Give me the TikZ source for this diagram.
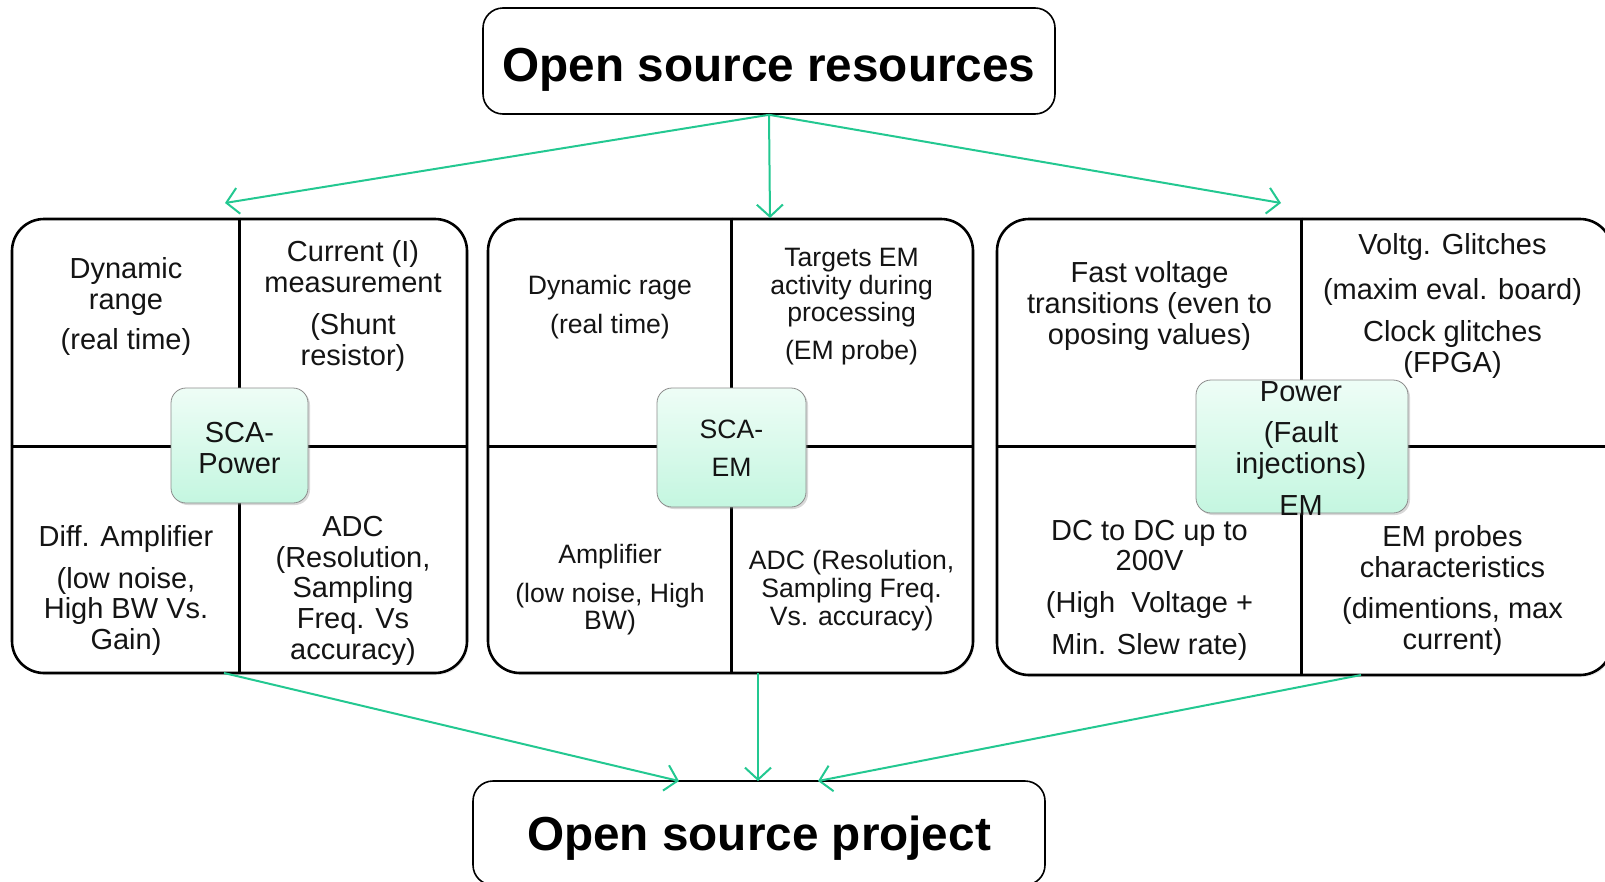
\documentclass[tikz,border=0pt]{standalone}
\usepackage{fontspec}
\setmainfont{Liberation Sans}
\usetikzlibrary{arrows.meta,shadows}
\definecolor{flowgreen}{RGB}{35,200,145}
\definecolor{badgetop}{RGB}{238,253,246}
\definecolor{badgebot}{RGB}{196,246,224}
\begin{document}
\begin{tikzpicture}[x=1pt,y=-1pt,
  titlebox/.style={draw=black, line width=1.6pt, rounded corners=20pt, inner sep=0pt,
    text depth=0pt, font=\fontsize{47.7}{50}\selectfont\bfseries},
  panel/.style={draw=black, fill=white, line width=2.6pt, rounded corners=32pt, inner sep=0pt,
    drop shadow={opacity=0.18, shadow xshift=1.5pt, shadow yshift=-2pt}},
  divider/.style={line width=3pt},
  badge/.style={draw=black!45, line width=0.8pt, rounded corners=15pt, inner sep=0pt,
    top color=badgetop, bottom color=badgebot,
    drop shadow={opacity=0.3, shadow xshift=2pt, shadow yshift=-2pt}},
  flow/.style={draw=flowgreen, line width=2pt,
    -{Straight Barb[length=12pt,width=26pt,line width=2pt]}},
  txtA/.style={align=center, inner sep=0pt, text=black!92, font=\fontsize{29}{30.7}\selectfont},
  txtB/.style={align=center, inner sep=0pt, text=black!92, font=\fontsize{26.6}{27.6}\selectfont}]
\useasboundingbox (0,0) rectangle (1605,881);
\begin{scope}
\clip (0,0) rectangle (1605,881);
% title boxes
\node[titlebox, minimum width=572pt, minimum height=106pt] (top) at (769,61) {};
\node[titlebox, draw=none, text height=41pt] (toptext) at (top.center) {Open source resources};
\node[titlebox, minimum width=572pt, minimum height=104pt] (bot) at (759,833) {Open source project};
% panels
\node[panel, minimum width=455pt, minimum height=454pt] (p1) at (239.5,446) {};
\node[panel, minimum width=485pt, minimum height=454pt] (p2) at (730.5,446) {};
\node[panel, minimum width=615pt, minimum height=456pt] (p3) at (1304.5,447) {};
% dividers
\draw[divider] (p1.west |- 0,446) -- (p1.east |- 0,446);
\draw[divider] (239,0 |- p1.north) -- (239,0 |- p1.south);
\draw[divider] (p2.west |- 0,446) -- (p2.east |- 0,446);
\draw[divider] (731,0 |- p2.north) -- (731,0 |- p2.south);
\draw[divider] (p3.west |- 0,446) -- (p3.east |- 0,446);
\draw[divider] (1301,0 |- p3.north) -- (1301,0 |- p3.south);
% badges
\node[badge, minimum width=137pt, minimum height=115pt] (b1) at (239.5,445.5) {};
\node[badge, minimum width=149pt, minimum height=119pt] (b2) at (731.5,447.5) {};
\node[badge, minimum width=212pt, minimum height=133pt] (b3) at (1302,446.5) {};
\node[txtA] (b1t) at (239.5,448) {SCA-\\Power};
\node[txtB] (b2t) at (731.5,448) {SCA-\\[10pt]EM};
\node[txtA] (b3t) at (1301,448.3) {Power\\[11pt](Fault\\injections)\\[11pt]EM};
% panel 1 texts
\node[txtA] (t11) at (126,306.5) {Dynamic\\range\\[10pt](real time)};
\node[txtA] (t12) at (353,306) {Current (I)\\measurement\\[11pt](Shunt\\resistor)};
\node[txtA] (t13) at (126,590.6) {Diff. Amplifier\\[11pt](low noise,\\High BW Vs.\\Gain)};
\node[txtA] (t14) at (353,590.6) {ADC\\(Resolution,\\Sampling\\Freq. Vs\\accuracy)};
% panel 2 texts
\node[txtB] (t21) at (610,307) {Dynamic rage\\[11pt](real time)};
\node[txtB] (t22) at (851.6,306.5) {Targets EM\\activity during\\processing\\[10pt](EM probe)};
\node[txtB] (t23) at (610,590) {Amplifier\\[11pt](low noise, High\\BW)};
\node[txtB] (t24) at (851.6,590.6) {ADC (Resolution,\\Sampling Freq.\\Vs. accuracy)};
% panel 3 texts
\node[txtA] (t31) at (1149.5,306) {Fast voltage\\transitions (even to\\oposing values)};
\node[txtA] (t32) at (1452.5,306) {Voltg. Glitches\\[14pt](maxim eval. board)\\[11pt]Clock glitches\\(FPGA)};
\node[txtA] (t33) at (1149.5,590) {DC to DC up to\\200V\\[11pt](High\ \ Voltage +\\[11pt]Min. Slew rate)};
\node[txtA] (t34) at (1452.5,590.6) {EM probes\\characteristics\\[11pt](dimentions, max\\current)};
% connectors
\coordinate (a1) at (225,203);
\coordinate (a2) at (770,218);
\coordinate (a3) at (1281,203);
\coordinate (s1) at (224,673);
\coordinate (s2) at (758,673);
\coordinate (s3) at (1361,675);
\coordinate (e1) at (679,781);
\coordinate (e2) at (758,781);
\coordinate (e3) at (818,781);
\draw[flow] (top.south) -- (a1);
\draw[flow] (top.south) -- (a2);
\draw[flow] (top.south) -- (a3);
\draw[flow] (s1) -- (e1);
\draw[flow] (s2) -- (e2);
\draw[flow] (s3) -- (e3);
\end{scope}
\end{tikzpicture}
\end{document}
